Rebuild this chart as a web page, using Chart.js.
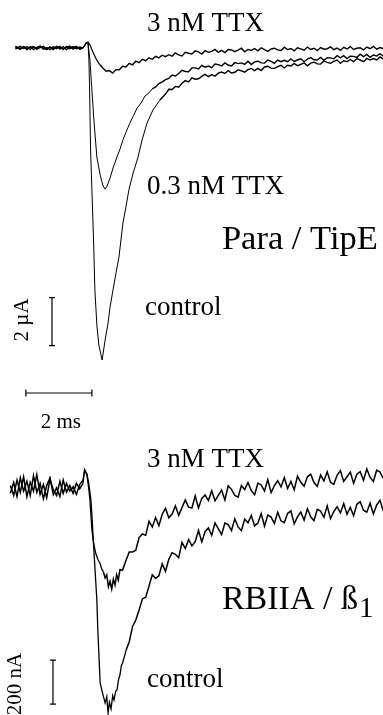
<!DOCTYPE html>
<html>
<head>
<meta charset="utf-8">
<script src="https://cdn.jsdelivr.net/npm/chart.js@4.4.1/dist/chart.umd.min.js"></script>
<style>
  html, body { margin: 0; padding: 0; background: #fff; }
  canvas { display: block; }
</style>
</head>
<body>
<canvas id="traces" width="383" height="715"></canvas>
<script>
// ---- Para / TipE (µA vs ms) ----
const topBaseTime = [-2.05, -1.9, -1.8, -1.7, -1.6, -1.5, -1.4, -1.3, -1.2, -1.1, -1.0, -0.9, -0.8, -0.7, -0.6, -0.5, -0.4, -0.3, -0.2, -0.1];
const topTailTime = [2.6, 2.7, 2.8, 2.9, 3.0, 3.1, 3.2, 3.3, 3.4, 3.5, 3.6, 3.7, 3.8, 3.9, 4.0, 4.1, 4.2, 4.3, 4.4, 4.5, 4.6, 4.7, 4.8, 4.9, 5.0, 5.1, 5.2, 5.3, 5.4, 5.5, 5.6, 5.7, 5.8, 5.9, 6.0, 6.1, 6.2, 6.3, 6.4, 6.5, 6.6, 6.7, 6.8, 6.9, 7.0, 7.1, 7.2, 7.3, 7.4, 7.5, 7.6, 7.7, 7.8, 7.9, 8.0, 8.1, 8.2, 8.3, 8.4, 8.5, 8.6, 8.7, 8.8, 8.9, 9.0, 9.1];

const paraCtrlBase = [0.05, -0.06, 0.07, -0.03, 0.06, -0.07, 0.03, 0.08, -0.05, 0.02, -0.07, 0.06, -0.03, 0.07, -0.06, 0.03, 0.08, -0.05, 0.04, -0.03];
const paraCtrlPeakTime = [0, 0.08, 0.15, 0.18, 0.20, 0.23, 0.27, 0.32, 0.36, 0.42, 0.48, 0.58, 0.67, 0.76, 0.82, 0.91, 1.00, 1.09, 1.15, 1.21, 1.30, 1.39, 1.52, 1.67, 1.79, 1.94, 2.12, 2.33, 2.5];
const paraCtrlPeak = [0.0, 0.15, 0.25, -0.5, -1.75, -4.25, -5.92, -8.0, -10.08, -11.54, -12.38, -13.0, -12.17, -11.46, -10.79, -10.08, -9.38, -8.71, -8.0, -7.29, -6.63, -5.92, -5.21, -4.54, -3.83, -3.13, -2.58, -2.17, -1.92];
const paraCtrlTail = [-1.72, -1.73, -1.60, -1.63, -1.47, -1.36, -1.41, -1.24, -1.30, -1.28, -1.18, -1.10, -1.19, -1.11, -1.17, -1.05, -1.00, -1.06, -0.94, -1.04, -1.01, -0.91, -0.95, -1.01, -0.90, -0.85, -0.94, -0.85, -0.94, -0.79, -0.76, -0.84, -0.85, -0.78, -0.72, -0.83, -0.72, -0.75, -0.64, -0.74, -0.68, -0.62, -0.74, -0.63, -0.59, -0.66, -0.67, -0.54, -0.60, -0.64, -0.56, -0.50, -0.64, -0.53, -0.57, -0.48, -0.57, -0.44, -0.50, -0.57, -0.43, -0.50, -0.44, -0.50, -0.37, -0.46];

const paraMidBase = [-0.05, 0.07, -0.02, 0.06, -0.06, 0.05, -0.03, 0.07, 0.00, -0.06, 0.05, -0.02, 0.07, -0.05, 0.06, -0.07, 0.02, 0.06, -0.03, 0.04];
const paraMidPeakTime = [0, 0.08, 0.15, 0.21, 0.27, 0.33, 0.42, 0.52, 0.61, 0.67, 0.73, 0.82, 0.91, 1.03, 1.12, 1.21, 1.3, 1.42, 1.53, 1.64, 1.76, 1.88, 2.0, 2.1, 2.2, 2.3, 2.42, 2.5];
const paraMidPeak = [0.0, 0.16, 0.25, -0.5, -1.75, -3.0, -4.54, -5.29, -5.75, -5.88, -5.75, -5.42, -5.0, -4.54, -4.22, -3.83, -3.52, -3.13, -2.82, -2.5, -2.29, -2.0, -1.87, -1.7, -1.62, -1.48, -1.40, -1.32];
const paraMidTail = [-1.27, -1.13, -1.17, -1.06, -0.93, -0.98, -0.99, -0.83, -0.83, -0.87, -0.72, -0.80, -0.75, -0.82, -0.67, -0.69, -0.75, -0.62, -0.71, -0.75, -0.61, -0.65, -0.62, -0.68, -0.55, -0.69, -0.58, -0.55, -0.62, -0.63, -0.50, -0.56, -0.64, -0.50, -0.57, -0.51, -0.57, -0.45, -0.56, -0.50, -0.45, -0.57, -0.46, -0.40, -0.49, -0.50, -0.39, -0.51, -0.40, -0.41, -0.45, -0.32, -0.41, -0.32, -0.44, -0.34, -0.35, -0.39, -0.26, -0.36, -0.27, -0.39, -0.29, -0.33, -0.24, -0.34];

const paraLowBase = [0.07, -0.03, 0.05, -0.07, 0.03, 0.06, -0.05, 0.02, 0.07, -0.06, 0.03, -0.07, 0.05, 0.02, -0.05, 0.07, -0.03, 0.03, 0.06, -0.05];
const paraLowPeakTime = [0, 0.09, 0.15, 0.21, 0.30, 0.40, 0.5, 0.6, 0.7, 0.8, 0.9, 1.0, 1.1, 1.2, 1.3, 1.4, 1.5, 1.6, 1.7, 1.8, 1.9, 2.0, 2.1, 2.2, 2.3, 2.4, 2.5];
const paraLowPeak = [0.0, 0.21, 0.25, 0.13, -0.17, -0.46, -0.68, -0.83, -0.97, -0.94, -1.04, -0.90, -0.91, -0.76, -0.79, -0.64, -0.70, -0.55, -0.61, -0.47, -0.53, -0.41, -0.47, -0.35, -0.41, -0.30, -0.36];
const paraLowTail = [-0.28, -0.34, -0.20, -0.29, -0.33, -0.18, -0.22, -0.25, -0.12, -0.16, -0.25, -0.11, -0.18, -0.14, -0.06, -0.18, -0.10, -0.19, -0.06, -0.08, -0.15, -0.09, -0.01, -0.16, -0.06, -0.10, -0.02, -0.12, 0.01, -0.07, -0.14, -0.04, -0.01, -0.08, -0.10, 0.03, -0.07, -0.02, -0.12, 0.01, -0.04, -0.09, 0.04, -0.06, -0.01, -0.11, 0.02, -0.05, -0.03, 0.05, -0.07, 0.00, -0.10, 0.03, -0.04, 0.06, -0.06, -0.01, 0.01, -0.08, 0.04, -0.03, 0.07, -0.05, 0.02, -0.03];

// ---- RBIIA / β1 (nA vs ms) ----
const rbBaseTime = [-2.2, -2.1, -2.0, -1.9, -1.8, -1.7, -1.6, -1.5, -1.4, -1.3, -1.2, -1.1, -1.0, -0.9, -0.8, -0.7, -0.6, -0.5, -0.4, -0.3, -0.2, -0.1];
const rbTailTime = [1.2, 1.3, 1.4, 1.5, 1.6, 1.7, 1.8, 1.9, 2.0, 2.1, 2.2, 2.3, 2.4, 2.5, 2.6, 2.7, 2.8, 2.9, 3.0, 3.1, 3.2, 3.3, 3.4, 3.5, 3.6, 3.7, 3.8, 3.9, 4.0, 4.1, 4.2, 4.3, 4.4, 4.5, 4.6, 4.7, 4.8, 4.9, 5.0, 5.1, 5.2, 5.3, 5.4, 5.5, 5.6, 5.7, 5.8, 5.9, 6.0, 6.1, 6.2, 6.3, 6.4, 6.5, 6.6, 6.7, 6.8, 6.9, 7.0, 7.1, 7.2, 7.3, 7.4, 7.5, 7.6, 7.7, 7.8, 7.9, 8.0, 8.1, 8.2, 8.3, 8.4, 8.5, 8.6, 8.7, 8.8, 8.9, 9.0, 9.1];

const rbCtrlBase = [20, -25, 45, -10, 60, -30, 35, -5, 70, -20, 25, -35, 50, 0, -25, 40, -15, 30, -5, 15, -20, 25];
const rbCtrlPeakTime = [0.0, 0.05, 0.12, 0.18, 0.24, 0.27, 0.30, 0.36, 0.42, 0.45, 0.52, 0.58, 0.63, 0.67, 0.72, 0.76, 0.80, 0.85, 0.90, 0.94, 0.99, 1.03, 1.08, 1.12, 1.16];
const rbCtrlPeak = [45, 91, 73, 23, -45, -114, -195, -350, -500, -640, -877, -915, -945, -968, -940, -1014, -965, -995, -935, -955, -915, -909, -860, -841, -800];
const rbCtrlTail = [-786, -731, -691, -621, -591, -545, -495, -487, -437, -385, -402, -390, -335, -370, -315, -285, -292, -308, -238, -266, -225, -254, -235, -184, -236, -189, -172, -206, -150, -176, -203, -150, -157, -184, -131, -168, -185, -132, -149, -116, -163, -150, -107, -165, -114, -123, -152, -101, -140, -148, -107, -95, -154, -122, -100, -137, -85, -122, -140, -88, -96, -124, -72, -130, -98, -76, -104, -62, -110, -79, -117, -65, -53, -92, -101, -60, -109, -68, -47, -96];

const rbTtxBase = [-15, 35, -30, 55, -5, 40, -25, 65, -10, 30, -40, 20, 55, -20, 10, -30, 45, -10, 20, -15, 30, 5];
const rbTtxPeakTime = [0.0, 0.05, 0.12, 0.18, 0.21, 0.27, 0.33, 0.39, 0.45, 0.52, 0.57, 0.62, 0.67, 0.72, 0.77, 0.82, 0.87, 0.92, 0.97, 1.02, 1.07, 1.12];
const rbTtxPeak = [30, 91, 68, 0, -45, -182, -250, -290, -315, -335, -360, -372, -400, -385, -440, -415, -450, -405, -432, -385, -410, -362];
const rbTtxTail = [-364, -322, -282, -282, -274, -216, -200, -206, -142, -168, -125, -162, -110, -83, -126, -109, -72, -115, -80, -45, -78, -82, -27, -82, -38, -23, -48, -4, -49, -24, 0, -45, 19, 3, -25, -33, 20, 2, 34, -3, -21, 31, 23, -5, 47, -12, 20, 42, 14, 56, 7, 39, 1, 63, 35, 17, 60, 72, 34, 16, 68, 41, 83, 35, 26, 67, 88, 39, 60, 81, 31, 72, 83, 44, 96, 57, 39, 90, 82, 53];

// ---- annotations (data coordinates) ----
const labels = [
  { text: '3 nM TTX', x: 1.94, y: 1.0, axis: 'y', size: 27 },
  { text: '0.3 nM TTX', x: 1.94, y: -5.79, axis: 'y', size: 27 },
  { text: 'Para / TipE', x: 4.21, y: -8.0, axis: 'y', size: 34.5 },
  { text: 'control', x: 1.88, y: -10.83, axis: 'y', size: 27 },
  { text: '2 µA', x: -1.82, y: -11.33, axis: 'y', size: 21, rotate: true },
  { text: '2 ms', x: -0.67, y: -15.6, axis: 'y', size: 21, center: true },
  { text: '3 nM TTX', x: 1.94, y: 136, axis: 'y2', size: 27 },
  { text: 'RBIIA / ß', sub: '1', x: 4.21, y: -500, axis: 'y2', size: 34 },
  { text: 'control', x: 1.94, y: -864, axis: 'y2', size: 27 },
  { text: '200 nA', x: -2.06, y: -882, axis: 'y2', size: 21, rotate: true },
];
const scaleBars = [
  { x1: -0.94, y1: -10.4, x2: -0.94, y2: -12.4, axis: 'y' },
  { x1: -1.73, y1: -14.375, x2: 0.27, y2: -14.375, axis: 'y' },
  { x1: -0.91, y1: -773, x2: -0.91, y2: -973, axis: 'y2' },
];

function pts(times, values) {
  return times.map((t, i) => ({ x: t, y: values[i] }));
}

// noisy stretches (baseline and slow tail) are drawn a little heavier
function trace(data, axis, thin, heavy, tailFrom) {
  return {
    data: data,
    yAxisID: axis,
    borderColor: '#000',
    borderWidth: thin,
    pointRadius: 0,
    tension: 0,
    fill: false,
    segment: {
      borderWidth: ctx => (ctx.p0.parsed.x < -0.05 || ctx.p0.parsed.x > tailFrom) ? heavy : thin,
    },
  };
}

const annotate = {
  id: 'annotate',
  afterDraw(chart) {
    const ctx = chart.ctx;
    const xs = chart.scales.x;
    ctx.save();
    ctx.strokeStyle = '#000';
    ctx.lineWidth = 1.2;
    scaleBars.forEach(b => {
      const ys = chart.scales[b.axis];
      const x1 = xs.getPixelForValue(b.x1), x2 = xs.getPixelForValue(b.x2);
      const y1 = ys.getPixelForValue(b.y1), y2 = ys.getPixelForValue(b.y2);
      ctx.beginPath();
      ctx.moveTo(x1, y1);
      ctx.lineTo(x2, y2);
      if (x1 === x2) {
        ctx.moveTo(x1 - 3, y1); ctx.lineTo(x1 + 3, y1);
        ctx.moveTo(x2 - 3, y2); ctx.lineTo(x2 + 3, y2);
      } else {
        ctx.moveTo(x1, y1 - 3.5); ctx.lineTo(x1, y1 + 3.5);
        ctx.moveTo(x2, y2 - 3.5); ctx.lineTo(x2, y2 + 3.5);
      }
      ctx.stroke();
    });

    ctx.fillStyle = '#000';
    ctx.textBaseline = 'middle';
    labels.forEach(l => {
      const ys = chart.scales[l.axis];
      const px = xs.getPixelForValue(l.x);
      const py = ys.getPixelForValue(l.y);
      ctx.font = l.size + 'px "Liberation Serif", "Times New Roman", serif';
      if (l.rotate) {
        ctx.save();
        ctx.translate(px, py);
        ctx.rotate(-Math.PI / 2);
        ctx.textAlign = 'center';
        ctx.fillText(l.text, 0, 0);
        ctx.restore();
        return;
      }
      ctx.textAlign = l.center ? 'center' : 'left';
      ctx.fillText(l.text, px, py);
      if (l.sub) {
        const w = ctx.measureText(l.text).width;
        ctx.font = Math.round(l.size * 0.85) + 'px "Liberation Serif", "Times New Roman", serif';
        ctx.textAlign = 'left';
        ctx.fillText(l.sub, px + w + 1, py + 9);
      }
    });
    ctx.restore();
  }
};

new Chart(document.getElementById('traces'), {
  type: 'line',
  data: {
    datasets: [
      trace(pts([...topBaseTime, ...paraCtrlPeakTime, ...topTailTime], [...paraCtrlBase, ...paraCtrlPeak, ...paraCtrlTail]), 'y', 1.0, 1.4, 2.3),
      trace(pts([...topBaseTime, ...paraMidPeakTime, ...topTailTime], [...paraMidBase, ...paraMidPeak, ...paraMidTail]), 'y', 1.0, 1.4, 2.0),
      trace(pts([...topBaseTime, ...paraLowPeakTime, ...topTailTime], [...paraLowBase, ...paraLowPeak, ...paraLowTail]), 'y', 1.2, 1.4, 0.4),
      trace(pts([...rbBaseTime, ...rbCtrlPeakTime, ...rbTailTime], [...rbCtrlBase, ...rbCtrlPeak, ...rbCtrlTail]), 'y2', 1.3, 1.5, 1.2),
      trace(pts([...rbBaseTime, ...rbTtxPeakTime, ...rbTailTime], [...rbTtxBase, ...rbTtxPeak, ...rbTtxTail]), 'y2', 1.3, 1.5, 0.6),
    ],
  },
  options: {
    responsive: false,
    animation: false,
    layout: { padding: 0 },
    scales: {
      x: { type: 'linear', min: -2.515, max: 9.091, display: false },
      y: { type: 'linear', min: -27.79, max: 2.0, display: false },
      y2: { type: 'linear', min: -1022.7, max: 2227.3, display: false },
    },
    plugins: {
      legend: { display: false },
      tooltip: { enabled: false },
    },
  },
  plugins: [annotate],
});
</script>
</body>
</html>
